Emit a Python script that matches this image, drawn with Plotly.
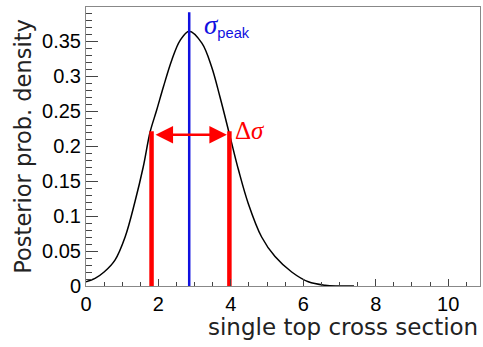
import plotly.graph_objects as go

# Posterior curve
x_curve = [0.0, 0.25, 0.5, 0.8, 1.08, 1.35, 1.58, 1.77, 1.95, 2.14, 2.37, 2.6, 2.85,
           3.2, 3.47, 3.7, 3.98, 4.21, 4.48, 4.85, 5.22, 5.68, 6.14, 6.6, 6.96, 7.4]
y_curve = [0.006, 0.011, 0.020, 0.037, 0.070, 0.120, 0.170, 0.220, 0.251, 0.285, 0.323, 0.351, 0.364,
           0.347, 0.313, 0.270, 0.213, 0.166, 0.118, 0.070, 0.042, 0.020, 0.006, 0.001, 0.000, 0.000]

sigma_peak = 2.85
peak_line_top = 0.391
interval_low = 1.81
interval_high = 3.96
interval_top = 0.221
arrow_level = 0.216

x_ticks = [0, 2, 4, 6, 8, 10]
x_ticktext = ["0", "2", "4", "6", "8", "10"]
y_ticks = [0, 0.05, 0.1, 0.15, 0.2, 0.25, 0.3, 0.35]
y_ticktext = ["0", "0.05", "0.1", "0.15", "0.2", "0.25", "0.3", "0.35"]

x_range = [0, 10.88]
y_range = [0, 0.3986]

fig = go.Figure()
fig.add_trace(go.Scatter(x=x_curve, y=y_curve, mode="lines", line=dict(color="black", width=1.5, shape="spline"),
                         showlegend=False, hoverinfo="skip"))
fig.add_trace(go.Scatter(x=[sigma_peak, sigma_peak], y=[0, peak_line_top], mode="lines",
                         line=dict(color="#1010e0", width=2.5), showlegend=False))
for xv in (interval_low, interval_high):
    fig.add_trace(go.Scatter(x=[xv, xv], y=[0, interval_top], mode="lines",
                             line=dict(color="#ff0000", width=4.5), showlegend=False))

# double-headed arrow
fig.add_annotation(x=interval_high - 0.07, y=arrow_level, ax=interval_low + 0.07, ay=arrow_level,
                   xref="x", yref="y", axref="x", ayref="y", text="", showarrow=True,
                   arrowhead=2, startarrowhead=2, arrowside="end+start", arrowsize=1.4,
                   arrowwidth=2.5, arrowcolor="#ff0000", standoff=0, startstandoff=0)

fig.add_annotation(x=sigma_peak + 0.36, y=0.372, xref="x", yref="y", xanchor="left", yanchor="middle",
                   text="<span style='font-family:Liberation Serif;font-size:27px'><i>σ</i></span><sub>peak</sub>",
                   showarrow=False, font=dict(family="Liberation Sans", size=21, color="#1010e0"))
fig.add_annotation(x=interval_high + 0.1, y=0.222, xref="x", yref="y", xanchor="left", yanchor="middle",
                   text="Δ<i>σ</i>", showarrow=False,
                   font=dict(family="Liberation Serif", size=25, color="#ff0000"))

# axis titles
fig.add_annotation(x=-0.162, y=0.5, xref="paper", yref="paper", textangle=-90,
                   xanchor="center", yanchor="middle",
                   text="Posterior prob. density", showarrow=False,
                   font=dict(family="DejaVu Sans", size=22.5, color="#222"))
fig.add_annotation(x=1.0, y=-0.147, xref="paper", yref="paper", xanchor="right", yanchor="middle",
                   text="single top cross section", showarrow=False,
                   font=dict(family="DejaVu Sans", size=23, color="#222"))

fig.update_xaxes(range=x_range, tickvals=x_ticks, ticktext=x_ticktext, ticks="inside", ticklen=7,
                 tickcolor="#444", showgrid=False, zeroline=False, showline=True, linecolor="#888",
                 linewidth=1, mirror=True,
                 tickfont=dict(family="Liberation Sans", size=20, color="black"),
                 minor=dict(dtick=0.5, tick0=0, ticks="inside", ticklen=4, tickcolor="#444", showgrid=False))
fig.update_yaxes(range=y_range, tickvals=y_ticks, ticktext=y_ticktext, ticks="inside", ticklen=12,
                 tickcolor="#444", showgrid=False, zeroline=False, showline=True, linecolor="#888",
                 linewidth=1, mirror=True,
                 tickfont=dict(family="Liberation Sans", size=20, color="black"),
                 minor=dict(dtick=0.01, tick0=0, ticks="inside", ticklen=6, tickcolor="#444", showgrid=False))

fig.update_layout(width=483, height=347, margin=dict(l=86, r=3, t=7, b=61),
                  plot_bgcolor="white", paper_bgcolor="white")
fig.write_html("out.html")
